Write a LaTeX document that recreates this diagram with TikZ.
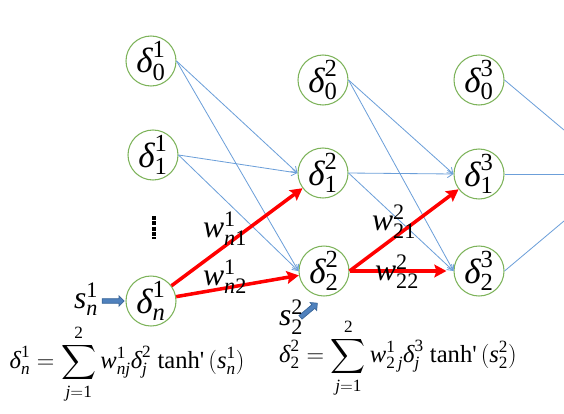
\documentclass[tikz,border=0pt]{standalone}
\usepackage{amsmath}
\usepackage{fontspec}
\setmainfont{Liberation Serif}
\usetikzlibrary{arrows.meta,shapes.arrows}
\definecolor{nodegreen}{HTML}{7DB35A}
\definecolor{linkblue}{HTML}{6C9FD9}
\definecolor{fatblue}{HTML}{4F81BD}
\definecolor{fatedge}{HTML}{3A6699}
\newcommand{\ti}[1]{\text{\itshape #1}}
\newcommand{\tr}[1]{\text{#1}}
\newcommand{\dl}[2]{\ti{δ}^{\tr{#1}}_{#2}}
\newcommand{\tnh}{\tr{tanh\textquotesingle}}

\begin{document}
\begin{tikzpicture}[x=0.03cm, y=-0.03cm,
  neuron/.style={circle, draw=nodegreen, line width=0.9pt, minimum size=1.5cm,
                 inner sep=0pt, font=\fontsize{30}{34}\selectfont},
  link/.style={-{Straight Barb[length=1.6mm,width=2.2mm]}, draw=linkblue, line width=0.7pt},
  back/.style={-{Stealth[length=3.6mm,width=3.8mm,inset=0.6mm]}, draw=red, line width=3pt},
  wlabel/.style={font=\fontsize{27}{30}\selectfont, inner sep=0pt},
  fat/.style={single arrow, fill=fatblue, draw=fatedge, line width=0.6pt, minimum height=0.66cm,
              inner xsep=0pt, inner ysep=1.7pt, single arrow head extend=2.4pt,
              single arrow head indent=0pt},
  formula/.style={font=\fontsize{21}{24}\selectfont, inner sep=0pt},
  ellip/.style={draw=black, line width=2.6pt, dash pattern=on 3.5pt off 1pt}
]
  \useasboundingbox (0,0) rectangle (564,413);

  % layer 1
  \node[neuron] (d01) at (151,61)  {$\dl{1}{\tr{0}}$};
  \node[neuron] (d11) at (153,155) {$\dl{1}{\tr{1}}$};
  \node[neuron] (dn1) at (151,301) {$\dl{1}{\ti{n}}$};
  % layer 2
  \node[neuron] (d02) at (323,80)  {$\dl{2}{\tr{0}}$};
  \node[neuron] (d12) at (323,173) {$\dl{2}{\tr{1}}$};
  \node[neuron] (d22) at (324,271) {$\dl{2}{\tr{2}}$};
  % layer 3
  \node[neuron] (d03) at (479,80)  {$\dl{3}{\tr{0}}$};
  \node[neuron] (d13) at (479,174) {$\dl{3}{\tr{1}}$};
  \node[neuron] (d23) at (479,271) {$\dl{3}{\tr{2}}$};

  % next layer, out of view
  \coordinate (o0) at (564,130);
  \coordinate (o1) at (564,174);
  \coordinate (o2) at (564,221);

  \draw[link] (d01.east) -- (d12.west);
  \draw[link] (d01.east) -- (d22.west);
  \draw[link] (d11.east) -- (d12.west);
  \draw[link] (d11.east) -- (d22.west);
  \draw[link] (d02.east) -- (d13.west);
  \draw[link] (d02.east) -- (d23.west);
  \draw[link] (d12.east) -- (d13.west);
  \draw[link] (d12.east) -- (d23.west);
  \draw[link,-] (d03.east) -- (o0);
  \draw[link,-] (d13.east) -- (o1);
  \draw[link,-] (d23.east) -- (o2);

  \draw[back] (dn1) -- (d12);
  \draw[back] (dn1) -- (d22);
  \draw[back] (d22.east) -- (d13);
  \draw[back,shorten >=6pt] (d22.east) -- (d23.west);

  \draw[ellip] (154,216) -- (154,239);

  \node[wlabel] (wn1) at (225,229) {$\ti{w}^{\tr{1}}_{\ti{n}\tr{1}}$};
  \node[wlabel] (wn2) at (225,277) {$\ti{w}^{\tr{1}}_{\ti{n}\tr{2}}$};
  \node[wlabel] (w21) at (394,222) {$\ti{w}^{\tr{2}}_{\tr{21}}$};
  \node[wlabel] (w22) at (397,272) {$\ti{w}^{\tr{2}}_{\tr{22}}$};

  % inputs
  \node[fat] (in1) at (112,301) {};
  \node[wlabel] (s1) at (86,299) {$\ti{s}^{\tr{1}}_{\ti{n}}$};
  \node[fat,rotate=40] (in2) at (308,311) {};
  \node[wlabel] (s2) at (291,317) {$\ti{s}^{\tr{2}}_{\tr{2}}$};

  \node[formula] (f1) at (127,364) {$\displaystyle \dl{1}{\ti{n}} = \sum_{\ti{j}=\tr{1}}^{\tr{2}}
     \ti{w}^{\tr{1}}_{\ti{nj}}\dl{2}{\ti{j}}\ \tnh\,(\ti{s}^{\tr{1}}_{\ti{n}})$};
  \node[formula] (f2) at (398,358) {$\displaystyle \dl{2}{\tr{2}} = \sum_{\ti{j}=\tr{1}}^{\tr{2}}
     \ti{w}^{\tr{1}}_{\tr{2}\,\ti{j}}\dl{3}{\ti{j}}\ \tnh\,(\ti{s}^{\tr{2}}_{\tr{2}})$};
\end{tikzpicture}
\end{document}
